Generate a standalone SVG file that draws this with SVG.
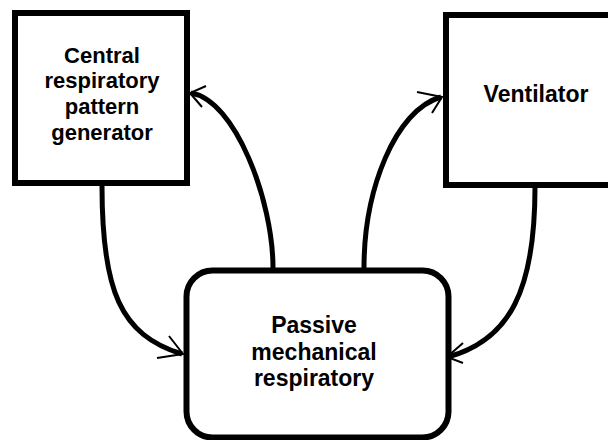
<svg xmlns="http://www.w3.org/2000/svg" width="608" height="440" viewBox="0 0 608 440">
<style>
.box{fill:#fff;stroke:#000;stroke-width:6}
.lbl{font-family:"Liberation Sans",Arial,sans-serif;font-weight:bold;fill:#000;text-anchor:middle}
.wire{fill:none;stroke:#000;stroke-width:5}
.barb{fill:none;stroke:#000;stroke-width:2}
</style>
<rect width="608" height="440" fill="#fff"/>
<g id="connectors">
<path class="wire" d="M102,186 C102,290 120,335 182,354"/>
<path class="barb" d="M169,336 L183,354 L157,358"/>
<path class="wire" d="M273,268 C273,200 235,100 191,93"/>
<path class="barb" d="M206,86 L190,93 L202,107"/>
<path class="wire" d="M364,268 C364,190 395,110 441,97"/>
<path class="barb" d="M417,92 L442,97 L432,113"/>
<path class="wire" d="M535,187 C535,290 510,340 448,357"/>
<path class="barb" d="M463,343 L447,357 L463,363"/>
</g>
<g id="central">
<rect class="box" x="15" y="13" width="172" height="170"/>
<text class="lbl" font-size="22" x="102" y="63">Central</text>
<text class="lbl" font-size="22" x="102" y="88">respiratory</text>
<text class="lbl" font-size="22" x="102" y="114">pattern</text>
<text class="lbl" font-size="22" x="102" y="140">generator</text>
</g>
<g id="ventilator">
<rect class="box" x="446" y="15" width="170" height="170"/>
<text class="lbl" font-size="23" x="536" y="102">Ventilator</text>
</g>
<g id="passive">
<rect class="box" x="186.5" y="270.5" width="262" height="167" rx="26"/>
<text class="lbl" font-size="23" x="314" y="333">Passive</text>
<text class="lbl" font-size="23" x="314" y="360">mechanical</text>
<text class="lbl" font-size="23" x="314" y="386">respiratory</text>
</g>
</svg>
